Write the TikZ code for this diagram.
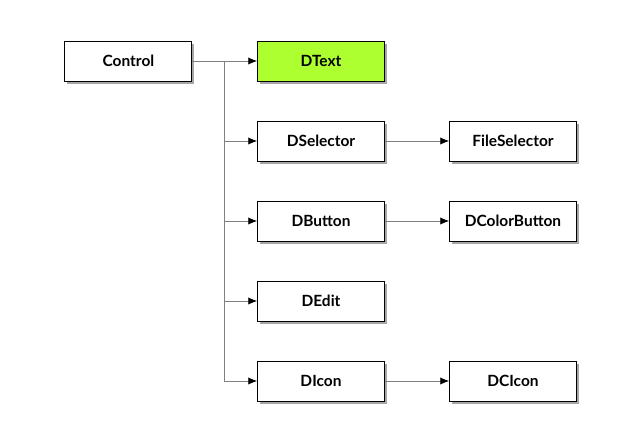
\documentclass[tikz,border=0pt]{standalone}
\usepackage{fontspec}
\setmainfont{Lato}
\usetikzlibrary{arrows.meta,shadows}
\definecolor{classgreen}{HTML}{ADFF2F}
\definecolor{linkgray}{HTML}{808080}
\tikzset{
  classbox/.style={draw=black,line width=0.6pt,fill=white,minimum width=3.175cm,minimum height=1cm,
    font=\bfseries\fontsize{11}{13}\selectfont,
    drop shadow={shadow xshift=1.5pt,shadow yshift=-2pt,fill=black,opacity=0.35}},
  link/.style={draw=linkgray,line width=0.5pt,-{Latex[length=2.2mm,width=1.8mm,color=black]}}
}
\begin{document}
\begin{tikzpicture}
\useasboundingbox (0,0) rectangle (16,11);
% classes
\node[classbox] (control) at (3.21,9.475) {Control};
\node[classbox,fill=classgreen] (dtext) at (8.025,9.475) {DText};
\node[classbox] (dselector) at (8.025,7.475) {DSelector};
\node[classbox] (dbutton) at (8.025,5.475) {DButton};
\node[classbox] (dedit) at (8.025,3.475) {DEdit};
\node[classbox] (dicon) at (8.025,1.475) {DIcon};
\node[classbox] (fileselector) at (12.825,7.475) {FileSelector};
\node[classbox] (dcolorbutton) at (12.825,5.475) {DColorButton};
\node[classbox] (dcicon) at (12.825,1.475) {DCIcon};
% inheritance
\coordinate (split) at (5.6,9.475);
\draw[link] (control) -- (dtext);
\draw[link] (split) |- (dselector);
\draw[link] (split) |- (dbutton);
\draw[link] (split) |- (dedit);
\draw[link] (split) |- (dicon);
\draw[link] (dselector) -- (fileselector);
\draw[link] (dbutton) -- (dcolorbutton);
\draw[link] (dicon) -- (dcicon);
\end{tikzpicture}
\end{document}
